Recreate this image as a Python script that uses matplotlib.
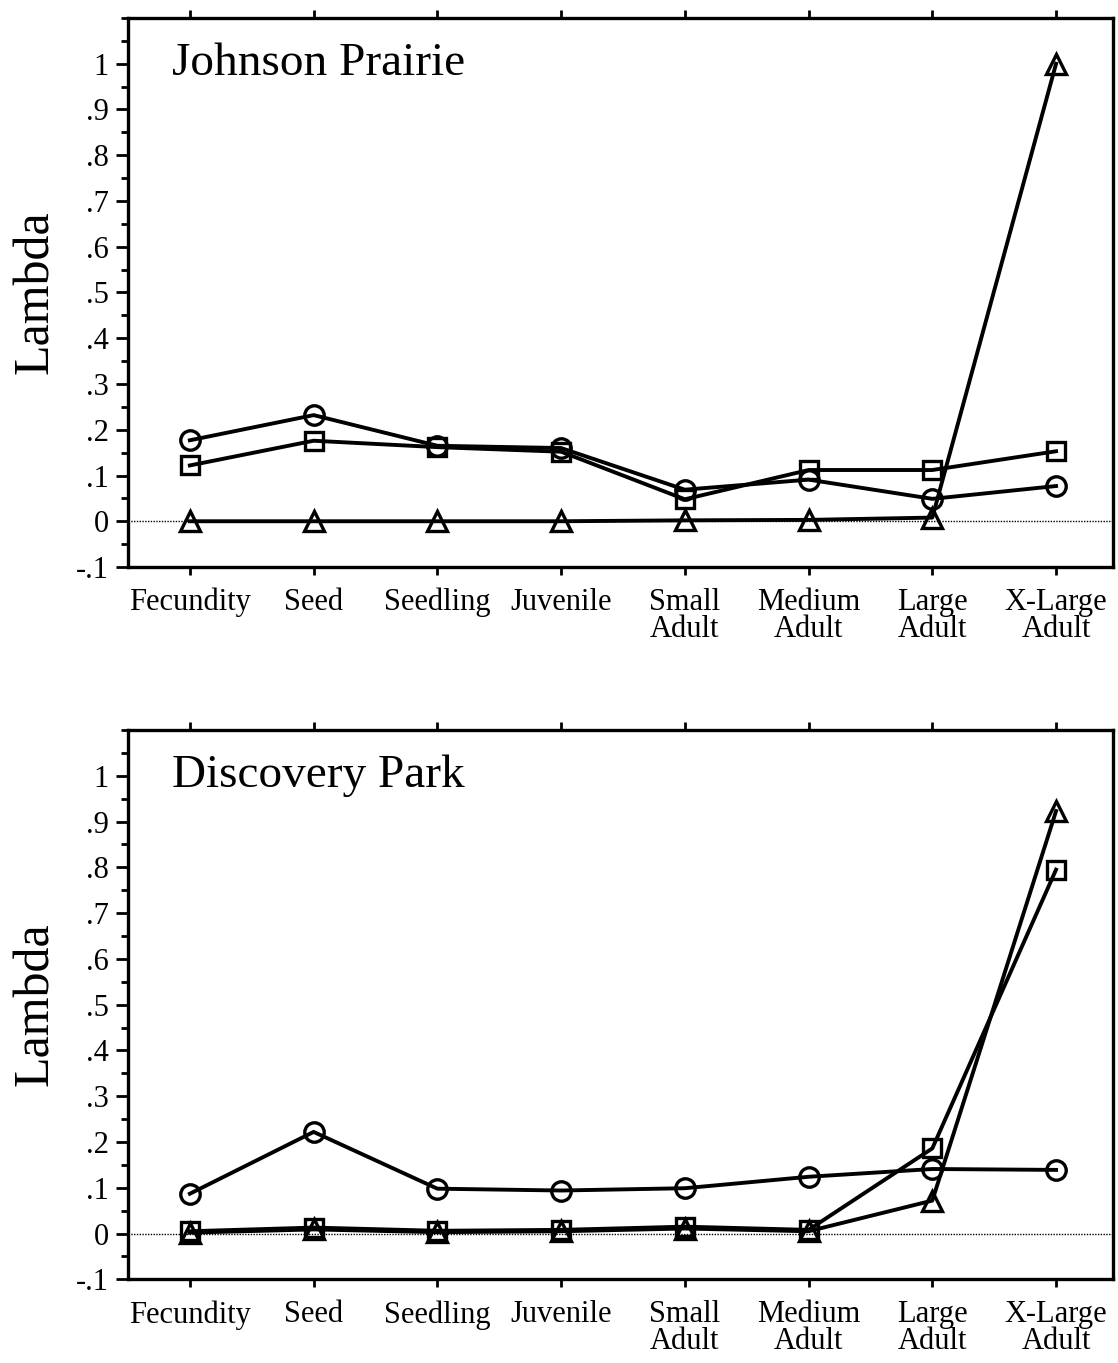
import numpy as np
import matplotlib.pyplot as plt
from matplotlib.ticker import MultipleLocator

stages = ['Fecundity', 'Seed', 'Seedling', 'Juvenile', 'Small\nAdult',
          'Medium\nAdult', 'Large\nAdult', 'X-Large\nAdult']

# Johnson Prairie
jp_circle = [0.177, 0.232, 0.165, 0.160, 0.069, 0.091, 0.049, 0.077]
jp_square = [0.122, 0.176, 0.162, 0.152, 0.048, 0.112, 0.112, 0.153]
jp_triangle = [0.0, 0.0, 0.0, 0.0, 0.002, 0.003, 0.008, 1.0]

# Discovery Park
dp_circle = [0.087, 0.222, 0.098, 0.094, 0.099, 0.124, 0.141, 0.139]
dp_square = [0.005, 0.013, 0.006, 0.008, 0.015, 0.008, 0.186, 0.795]
dp_triangle = [0.002, 0.009, 0.003, 0.005, 0.011, 0.005, 0.072, 0.923]

panels = [('Johnson Prairie', jp_circle, jp_square, jp_triangle),
          ('Discovery Park', dp_circle, dp_square, dp_triangle)]

plt.rcParams['font.family'] = ['Liberation Serif', 'DejaVu Serif']

fig = plt.figure(figsize=(11.18, 13.63), dpi=100)
boxes = [[0.1145, 0.584, 0.881, 0.4028], [0.1145, 0.0614, 0.881, 0.403]]

x = np.arange(len(stages))
for box, (name, circ, sq, tri) in zip(boxes, panels):
    ax = fig.add_axes(box)
    ax.axhline(0, color='black', lw=1, ls=(0, (1, 1)), zorder=1)
    style = dict(color='black', lw=2.8, mfc='none', mec='black', mew=2.4, zorder=3)
    ax.plot(x, tri, marker='^', ms=14, **style)
    ax.plot(x, sq, marker='s', ms=13, **style)
    ax.plot(x, circ, marker='o', ms=14, **style)

    ax.set_xlim(-0.5, 7.46)
    ax.set_ylim(-0.1, 1.1)
    ax.set_xticks(x)
    ax.set_xticklabels(stages, fontsize=22, linespacing=0.92)
    yt = np.round(np.arange(-0.1, 1.01, 0.1), 2)
    ax.set_yticks(yt)
    ax.set_yticklabels(['-.1', '0', '.1', '.2', '.3', '.4', '.5', '.6', '.7', '.8', '.9', '1'],
                       fontsize=22)
    ax.yaxis.set_minor_locator(MultipleLocator(0.05))
    ax.tick_params(axis='x', top=True, direction='out', length=6, width=2, pad=9)
    ax.tick_params(axis='y', which='major', direction='out', length=9, width=2, pad=5)
    ax.tick_params(axis='y', which='minor', direction='out', length=5, width=2)
    for sp in ax.spines.values():
        sp.set_linewidth(2.4)
    ax.set_ylabel('Lambda', fontsize=36, labelpad=12)
    ax.text(0.045, 0.955, name, transform=ax.transAxes, fontsize=34, va='top', ha='left')

fig.savefig('out.png', dpi=100)
